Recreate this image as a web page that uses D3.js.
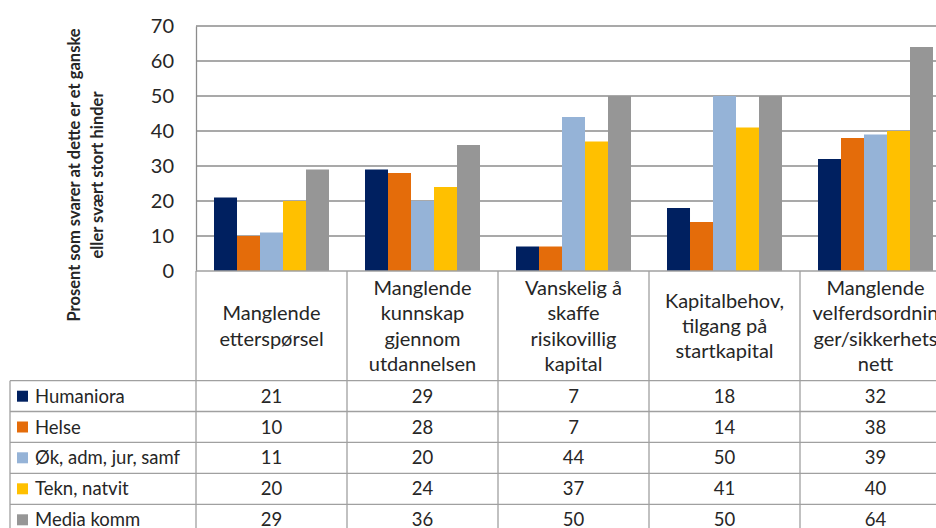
<!DOCTYPE html>
<html><head><meta charset="utf-8">
<script src="https://cdn.jsdelivr.net/npm/d3@7"></script>
<style>body{margin:0;background:#fff;overflow:hidden}svg{display:block}text{font-family:Lato,"Liberation Sans",sans-serif;fill:#262626}</style>
</head><body><svg id="c" width="936" height="528"></svg>
<script>
const categories = [
  ["Manglende","etterspørsel"],
  ["Manglende","kunnskap","gjennom","utdannelsen"],
  ["Vanskelig å","skaffe","risikovillig","kapital"],
  ["Kapitalbehov,","tilgang på","startkapital"],
  ["Manglende","velferdsordnin","ger/sikkerhets","nett"]
];
const seriesNames = ["Humaniora","Helse","Øk, adm, jur, samf","Tekn, natvit","Media komm"];
const colors = ["#002060","#E46C0A","#95B3D7","#FFC000","#969696"];
const humaniora = [21,29,7,18,32];
const helse = [10,28,7,14,38];
const okadm = [11,20,44,50,39];
const tekn = [20,24,37,41,40];
const media = [29,36,50,50,64];
const yTicks = [0,10,20,30,40,50,60,70];
const yTitle = ["Prosent som svarer at dette er et ganske","eller svært stort hinder"];

const values = [humaniora, helse, okadm, tekn, media];
const catIdx = d3.range(categories.length);
const svg = d3.select("#c");

const x0 = d3.scaleBand().domain(catIdx).range([196, 196 + 151*5]).padding(0);
const x1 = d3.scaleBand().domain(d3.range(seriesNames.length)).range([0, x0.bandwidth()]).paddingInner(0).paddingOuter(0.783);
const y = d3.scaleLinear().domain([0,70]).range([271, 26]);

// gridlines
svg.append("g").selectAll("line").data(yTicks.filter(t=>t>0)).join("line")
  .attr("x1",196).attr("x2",951).attr("y1",d=>y(d)).attr("y2",d=>y(d))
  .attr("stroke","#8c8c8c").attr("stroke-width",1.3);

// y axis
const yAxis = d3.axisLeft(y).tickValues(yTicks).tickSize(0).tickPadding(22);
const ga = svg.append("g").attr("transform","translate(196,0)").call(yAxis);
ga.select(".domain").attr("stroke","#8c8c8c").attr("stroke-width",1.3);
ga.selectAll("text").style("font-size","20px").attr("fill","#262626").style("font-family","Lato,sans-serif");

// bars
const g = svg.append("g");
values.forEach((vals,si)=>{
  g.selectAll(null).data(vals).join("rect")
    .attr("x",(d,i)=>x0(i)+x1(si)).attr("width",x1.bandwidth())
    .attr("y",d=>y(d)).attr("height",d=>y(0)-y(d))
    .attr("fill",colors[si]);
});

// y title
const yt = svg.append("text").attr("transform","translate(85,175) rotate(-90)")
  .attr("text-anchor","middle").style("font-size","16.5px").style("font-weight","bold").attr("fill","#1a1a1a");
yTitle.forEach((t,i)=>yt.append("tspan").attr("x",0).attr("y",(i-0.5)*23+6).text(t));

// table
const tableLine = "#a0a0a0";
const rowTops = [380.7,411.5,442.3,473.3,504.3,535];
const tl = svg.append("g").attr("stroke",tableLine).attr("stroke-width",1.3);
tl.append("line").attr("x1",196).attr("x2",951).attr("y1",y(0)).attr("y2",y(0));
rowTops.forEach(r=>tl.append("line").attr("x1",10).attr("x2",951).attr("y1",r).attr("y2",r));
tl.append("line").attr("x1",10).attr("x2",10).attr("y1",rowTops[0]).attr("y2",540);
catIdx.concat([5]).forEach(i=>{
  const xx = 196 + 151*i;
  tl.append("line").attr("x1",xx).attr("x2",xx).attr("y1",y(0)).attr("y2",540);
});

// category labels
catIdx.forEach(i=>{
  const lines = categories[i];
  const cx = x0(i) + x0.bandwidth()/2;
  const cy = (y(0)+rowTops[0])/2;
  const lh = 25.3;
  const t = svg.append("text").attr("text-anchor","middle").style("font-size","20px");
  lines.forEach((l,k)=>t.append("tspan").attr("x",cx).attr("y",cy + (k-(lines.length-1)/2)*lh + 7).text(l));
});

// legend rows + values
seriesNames.forEach((s,si)=>{
  const top = rowTops[si], cy = top + 15.5;
  svg.append("rect").attr("x",17).attr("y",cy-5.5).attr("width",11).attr("height",11).attr("fill",colors[si]);
  svg.append("text").attr("x",35).attr("y",cy+6.5).style("font-size","18.5px").text(s);
  values[si].forEach((v,i)=>{
    svg.append("text").attr("x",x0(i)+x0.bandwidth()/2).attr("y",cy+6.5).attr("text-anchor","middle").style("font-size","18.5px").text(v);
  });
});
</script></body></html>
